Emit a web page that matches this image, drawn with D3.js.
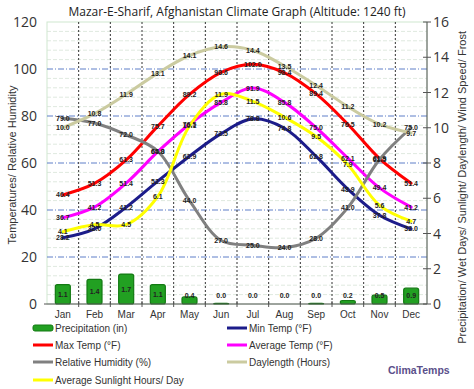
<!DOCTYPE html>
<html><head><meta charset="utf-8">
<script src="https://cdn.jsdelivr.net/npm/d3@7"></script>
<style>body{margin:0;background:#fff}svg{display:block}</style>
</head><body><svg id="c" width="474" height="389"></svg>
<script>
const months = ["Jan","Feb","Mar","Apr","May","Jun","Jul","Aug","Sep","Oct","Nov","Dec"];
const precip = [1.1,1.4,1.7,1.1,0.4,0.04,0,0,0.04,0.2,0.5,0.9];
const maxTemp = [46.4,51.3,61.3,75.7,89.2,98.6,102.0,98.4,89.4,76.5,61.9,51.4];
const minTemp = [28.2,32.0,41.2,52.3,62.9,72.5,78.8,74.8,62.8,48.9,37.8,32.0];
const avgTemp = [36.7,41.2,51.4,64.8,76.5,85.8,91.9,85.8,75.0,62.1,49.4,41.2];
const humidity = [79.0,77.0,72.0,65.0,44.0,27.0,25.0,24.0,28.0,41.0,61.5,75.0];
const daylength = [10.0,10.8,11.9,13.1,14.1,14.6,14.4,13.5,12.4,11.2,10.2,9.7];
const sunlight = [4.1,4.5,4.5,6.1,10.1,11.9,11.5,10.6,9.5,7.9,5.6,4.7];
const leftTicks = [0,20,40,60,80,100,120];
const rightTicks = [0,2,4,6,8,10,12,14,16];

const svg = d3.select("#c");
const L=47,R=427,T=22,B=304;
const x = d3.scaleBand().domain(months).range([L,R]);
const yL = d3.scaleLinear().domain([0,120]).range([B,T]);
const yR = d3.scaleLinear().domain([0,16]).range([B,T]);
const cx = m => x(m)+x.bandwidth()/2;

// title
svg.append("text").attr("x",237).attr("y",16).attr("text-anchor","middle")
  .attr("font-family","Open Sans, sans-serif").attr("font-size",12).attr("fill","#222")
  .text("Mazar-E-Sharif, Afghanistan Climate Graph (Altitude: 1240 ft)");

// minor grid
const minor = d3.range(4,120,4).filter(v=>v%20!==0);
svg.append("g").selectAll("line").data(minor).join("line")
  .attr("x1",L).attr("x2",R).attr("y1",d=>yL(d)).attr("y2",d=>yL(d))
  .attr("stroke","#dfe9df").attr("stroke-width",1).attr("stroke-dasharray","4,2");
// plot border
svg.append("rect").attr("x",L).attr("y",T).attr("width",R-L).attr("height",B-T)
  .attr("fill","none").attr("stroke","#cfe8cf");
// major grid
svg.append("g").selectAll("line").data([20,40,60,80,100]).join("line")
  .attr("x1",L).attr("x2",R).attr("y1",d=>yL(d)).attr("y2",d=>yL(d))
  .attr("stroke","#5f7fc8").attr("stroke-width",1).attr("stroke-dasharray","6,2,1,2");
// vertical dotted
svg.append("g").selectAll("line").data(months.slice(1)).join("line")
  .attr("x1",d=>x(d)).attr("x2",d=>x(d)).attr("y1",T).attr("y2",B)
  .attr("stroke","#333").attr("stroke-width",1).attr("stroke-dasharray","2,2");

// bars
const bw=15;
svg.append("g").selectAll("rect").data(months).join("rect")
  .attr("x",(d)=>cx(d)-bw/2).attr("width",bw)
  .attr("y",(d,i)=>yR(precip[i])).attr("height",(d,i)=>B-yR(precip[i]))
  .attr("rx",2).attr("fill","#22a022").attr("stroke","#137a13").attr("stroke-width",1.2);
svg.append("g").selectAll("text").data(months).join("text")
  .attr("x",d=>cx(d)).attr("y",(d,i)=>Math.min((yR(precip[i])+B)/2,295)+2.5)
  .attr("text-anchor","middle").attr("font-family","Liberation Sans, Arial, sans-serif")
  .attr("font-size",7).attr("font-weight","bold").attr("fill","#222")
  .text((d,i)=>precip[i].toFixed(1));

// axes
const ax = svg.append("g");
ax.append("line").attr("x1",L).attr("x2",R).attr("y1",B).attr("y2",B).attr("stroke","#555");
ax.selectAll(".xt").data(months.slice(1)).join("line")
  .attr("x1",d=>x(d)).attr("x2",d=>x(d)).attr("y1",B-3).attr("y2",B+3).attr("stroke","#555");
ax.append("line").attr("x1",L-3).attr("x2",L).attr("y1",B).attr("y2",B).attr("stroke","#555");
ax.selectAll(".ml").data(months).join("text").attr("x",d=>cx(d)).attr("y",318)
  .attr("text-anchor","middle").attr("font-family","Liberation Sans, Arial, sans-serif")
  .attr("font-size",10).attr("fill","#333").text(d=>d);
ax.selectAll(".lt").data(leftTicks).join("text").attr("x",37).attr("y",d=>yL(d)+5)
  .attr("text-anchor","end").attr("font-family","Open Sans, sans-serif")
  .attr("font-size",14).attr("fill","#333").text(d=>d);
// right axis
ax.append("line").attr("x1",R).attr("x2",R).attr("y1",T).attr("y2",B).attr("stroke","#555");
ax.selectAll(".rtk").data(rightTicks).join("line")
  .attr("x1",R-4).attr("x2",R+4).attr("y1",d=>yR(d)).attr("y2",d=>yR(d)).attr("stroke","#555");
ax.selectAll(".rt").data(rightTicks).join("text").attr("x",433).attr("y",d=>yR(d)+5)
  .attr("font-family","Open Sans, sans-serif")
  .attr("font-size",14).attr("fill","#333").text(d=>d);
svg.append("text").attr("transform","translate(16,165) rotate(-90)").attr("text-anchor","middle")
  .attr("font-family","Liberation Sans, Arial, sans-serif").attr("font-size",11).attr("fill","#333")
  .text("Temperatures/ Relative Humidity");
svg.append("text").attr("transform","translate(466,31) rotate(-90)").attr("text-anchor","end")
  .attr("font-family","Liberation Sans, Arial, sans-serif").attr("font-size",11).attr("fill","#333")
  .text("Precipitation/ Wet Days/ Sunlight/ Daylength/ Wind Speed/ Frost");

// lines
const series = [
  {name:"Min Temp (°F)", vals:minTemp, y:yL, color:"#1c1c8a"},
  {name:"Max Temp (°F)", vals:maxTemp, y:yL, color:"#ff0000"},
  {name:"Average Temp (°F)", vals:avgTemp, y:yL, color:"#ff00ff"},
  {name:"Relative Humidity (%)", vals:humidity, y:yL, color:"#808080"},
  {name:"Daylength (Hours)", vals:daylength, y:yR, color:"#cbcba0"},
  {name:"Average Sunlight Hours/ Day", vals:sunlight, y:yR, color:"#ffff00"}
];
const lg = svg.append("g");
series.forEach(s=>{
  const line = d3.line().x((d,i)=>cx(months[i])).y(d=>s.y(d)).curve(d3.curveCatmullRom.alpha(0.5));
  lg.append("path").datum(s.vals).attr("d",line).attr("fill","none")
    .attr("stroke",s.color).attr("stroke-width",3).attr("stroke-linecap","round");
});
const tg = svg.append("g");
series.forEach(s=>{
  tg.selectAll(null).data(s.vals).join("text")
    .attr("x",(d,i)=>cx(months[i])).attr("y",d=>s.y(d)+2.5)
    .attr("text-anchor","middle").attr("font-family","Liberation Sans, Arial, sans-serif")
    .attr("font-size",7).attr("font-weight","bold").attr("fill","#222")
    .text(d=>d.toFixed(1));
});

// legend
const leg = [
  {name:"Precipitation (in)", color:"#22a022", bar:true, x:33, y:328},
  {name:"Min Temp (°F)", color:"#1c1c8a", x:227, y:328},
  {name:"Max Temp (°F)", color:"#ff0000", x:33, y:345},
  {name:"Average Temp (°F)", color:"#ff00ff", x:227, y:345},
  {name:"Relative Humidity (%)", color:"#808080", x:33, y:362},
  {name:"Daylength (Hours)", color:"#cbcba0", x:227, y:362},
  {name:"Average Sunlight Hours/ Day", color:"#ffff00", x:33, y:380}
];
const lgg = svg.append("g");
leg.forEach(l=>{
  if(l.bar){
    lgg.append("rect").attr("x",l.x).attr("y",l.y-3).attr("width",20).attr("height",6).attr("rx",2)
      .attr("fill",l.color).attr("stroke","#137a13");
  } else {
    lgg.append("line").attr("x1",l.x).attr("x2",l.x+20).attr("y1",l.y).attr("y2",l.y)
      .attr("stroke",l.color).attr("stroke-width",3);
  }
  lgg.append("text").attr("x",l.x+22).attr("y",l.y+4).attr("font-family","Liberation Sans, Arial, sans-serif")
    .attr("font-size",10).attr("fill","#333").text(l.name);
});
svg.append("text").attr("x",388).attr("y",374).attr("font-family","Liberation Sans, Arial, sans-serif")
  .attr("font-size",10.5).attr("font-weight","bold").attr("fill","#5a4f8a").text("ClimaTemps");
</script></body></html>
